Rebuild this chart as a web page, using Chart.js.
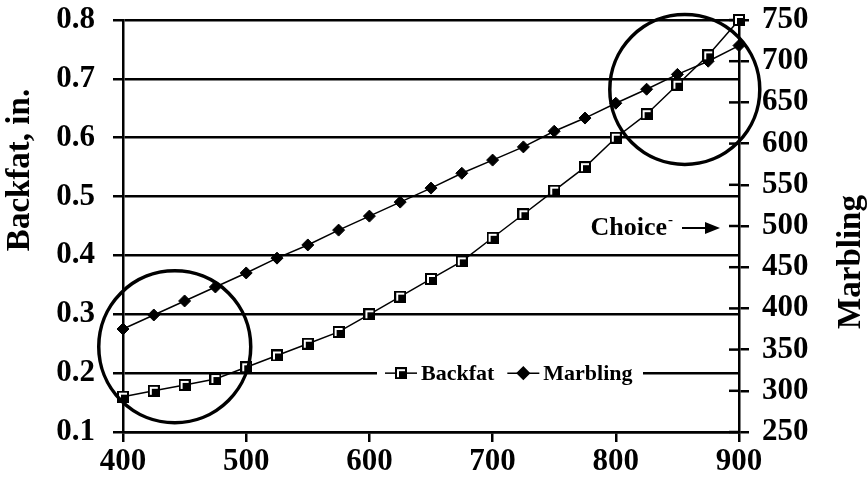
<!DOCTYPE html>
<html>
<head>
<meta charset="utf-8">
<script src="https://cdn.jsdelivr.net/npm/chart.js@4.4.1/dist/chart.umd.min.js"></script>
<style>
  html, body { margin: 0; padding: 0; background: #fff; }
  #wrap { width: 867px; height: 494px; }
</style>
</head>
<body>
<div id="wrap"><canvas id="beefChart"></canvas></div>
<script>
// Live weight (x) and the two responses
const weights = [400, 425, 450, 475, 500, 525, 550, 575, 600, 625, 650, 675, 700, 725, 750, 775, 800, 825, 850, 875, 900];
const backfat = [0.16, 0.17, 0.18, 0.19, 0.21, 0.23, 0.25, 0.27, 0.30, 0.33, 0.36, 0.39, 0.43, 0.47, 0.51, 0.55, 0.60, 0.64, 0.69, 0.74, 0.80];
const marbling = [375, 392, 409, 426, 443, 461, 477, 495, 512, 529, 546, 564, 580, 596, 615, 631, 649, 666, 684, 700, 719];

const xTicks = [400, 500, 600, 700, 800, 900];
const backfatTicks = [0.1, 0.2, 0.3, 0.4, 0.5, 0.6, 0.7, 0.8];
const marblingTicks = [250, 300, 350, 400, 450, 500, 550, 600, 650, 700, 750];

const SERIF = '"Liberation Serif", "Times New Roman", serif';
Chart.defaults.font.family = SERIF;
Chart.defaults.font.weight = 'bold';
Chart.defaults.color = '#000';

// square marker: black box with a white L inside
function squareMarker(size) {
  const c = document.createElement('canvas');
  c.width = size; c.height = size;
  const g = c.getContext('2d');
  g.fillStyle = '#000'; g.fillRect(0, 0, size, size);
  g.fillStyle = '#fff'; g.fillRect(2, 2, size - 4, size - 4);
  g.fillStyle = '#000'; g.fillRect(4, 4, size - 6, size - 6);
  return c;
}
const sqImg = squareMarker(12);

const toPoints = vals => weights.map((w, i) => ({ x: w, y: vals[i] }));

// no extra label padding, so the plot area lands where the original one is
const noPad = s => { s.paddingTop = 0; s.paddingBottom = 0; s.paddingLeft = 0; s.paddingRight = 0; };

// short ticks on the inner side of the right axis
const innerTicks = {
  id: 'innerTicks',
  beforeDatasetsDraw(chart) {
    const s = chart.scales.yR, ctx = chart.ctx;
    ctx.save();
    ctx.strokeStyle = '#000';
    ctx.lineWidth = 2.5;
    s.ticks.forEach(t => {
      const y = s.getPixelForValue(t.value);
      ctx.beginPath(); ctx.moveTo(s.left - 10, y); ctx.lineTo(s.left, y); ctx.stroke();
    });
    ctx.restore();
  }
};

// legend sitting on the 0.2 gridline, with a white box
const inlineLegend = {
  id: 'inlineLegend',
  afterDatasetsDraw(chart) {
    const ctx = chart.ctx, area = chart.chartArea;
    const y = chart.scales.y.getPixelForValue(0.2);
    const left = area.left + 254, width = 266;
    ctx.save();
    ctx.fillStyle = '#fff';
    ctx.fillRect(left, y - 12, width, 24);
    ctx.font = 'bold 22px ' + SERIF;
    ctx.textBaseline = 'middle';
    let x = left + 8;
    chart.data.datasets.forEach(ds => {
      ctx.strokeStyle = '#000'; ctx.lineWidth = 1.5;
      ctx.beginPath(); ctx.moveTo(x, y); ctx.lineTo(x + 32, y); ctx.stroke();
      Chart.helpers.drawPoint(ctx, {
        pointStyle: ds.pointStyle, radius: ds.pointRadius, borderWidth: 1, rotation: 0
      }, x + 16, y);
      ctx.fillStyle = '#000';
      ctx.fillText(ds.label, x + 36, y + 1);
      x += 36 + ctx.measureText(ds.label).width + 13;
    });
    ctx.restore();
  }
};

// circles, "Choice-" arrow and the two rotated axis titles
const annotations = {
  id: 'annotations',
  afterDraw(chart) {
    const ctx = chart.ctx, area = chart.chartArea;
    const sx = chart.scales.x, sy = chart.scales.y, sr = chart.scales.yR;
    ctx.save();
    ctx.strokeStyle = '#000';
    ctx.lineWidth = 3.5;
    [[442, 0.245, 76], [856, 0.682, 75]].forEach(([cx, cy, r]) => {
      ctx.beginPath();
      ctx.arc(sx.getPixelForValue(cx), sy.getPixelForValue(cy), r, 0, Math.PI * 2);
      ctx.stroke();
    });

    const ay = sr.getPixelForValue(500) + 2;
    ctx.fillStyle = '#000';
    ctx.font = 'bold 26px ' + SERIF;
    ctx.textAlign = 'right';
    ctx.textBaseline = 'middle';
    ctx.fillText('Choice', area.right - 72, ay);
    ctx.font = 'bold 15px ' + SERIF;
    ctx.textAlign = 'left';
    ctx.fillText('-', area.right - 71, ay - 8);
    ctx.lineWidth = 2;
    ctx.beginPath(); ctx.moveTo(area.right - 57, ay); ctx.lineTo(area.right - 32, ay); ctx.stroke();
    ctx.beginPath();
    ctx.moveTo(area.right - 34, ay - 6); ctx.lineTo(area.right - 19, ay); ctx.lineTo(area.right - 34, ay + 6);
    ctx.closePath(); ctx.fill();

    ctx.font = 'bold 33px ' + SERIF;
    ctx.textAlign = 'center';
    ctx.save();
    ctx.translate(area.left - 103, area.top + 150);
    ctx.rotate(-Math.PI / 2);
    ctx.fillText('Backfat, in.', 0, 0);
    ctx.restore();
    ctx.save();
    ctx.translate(area.right + 112, area.top + 242);
    ctx.rotate(-Math.PI / 2);
    ctx.fillText('Marbling', 0, 0);
    ctx.restore();
    ctx.restore();
  }
};

const tickFont = { size: 31, weight: 'bold', family: SERIF };

new Chart(document.getElementById('beefChart'), {
  type: 'line',
  data: {
    datasets: [{
      label: 'Backfat',
      data: toPoints(backfat),
      yAxisID: 'y',
      borderColor: '#000',
      borderWidth: 1.5,
      pointStyle: sqImg,
      pointRadius: 6,
      tension: 0,
      clip: false
    }, {
      label: 'Marbling',
      data: toPoints(marbling),
      yAxisID: 'yR',
      borderColor: '#000',
      backgroundColor: '#000',
      borderWidth: 1.5,
      pointStyle: 'rectRot',
      pointRadius: 6,
      pointBackgroundColor: '#000',
      pointBorderColor: '#000',
      pointBorderWidth: 1,
      tension: 0,
      clip: false
    }]
  },
  options: {
    responsive: true,
    maintainAspectRatio: false,
    animation: false,
    layout: { padding: { top: 20 } },
    plugins: { legend: { display: false }, tooltip: { enabled: false } },
    scales: {
      x: {
        type: 'linear',
        min: 400, max: 900,
        afterBuildTicks: s => { s.ticks = xTicks.map(v => ({ value: v })); },
        afterFit: s => { s.height = 62; noPad(s); },
        grid: { drawOnChartArea: false, color: '#000', lineWidth: 2.5, tickLength: 10 },
        border: { color: '#000', width: 2.5 },
        ticks: { font: tickFont, padding: 1, maxRotation: 0 }
      },
      y: {
        position: 'left',
        min: 0.1, max: 0.8,
        afterBuildTicks: s => { s.ticks = backfatTicks.map(v => ({ value: v })); },
        afterFit: s => { s.width = 123; noPad(s); },
        grid: { color: '#000', lineWidth: 2.5, tickLength: 10 },
        border: { color: '#000', width: 2.5 },
        ticks: { font: tickFont, padding: 18, callback: v => v.toFixed(1) }
      },
      yR: {
        position: 'right',
        min: 250, max: 750,
        afterBuildTicks: s => { s.ticks = marblingTicks.map(v => ({ value: v })); },
        afterFit: s => { s.width = 128; noPad(s); },
        grid: { drawOnChartArea: false, color: '#000', lineWidth: 2.5, tickLength: 10 },
        border: { color: '#000', width: 2.5 },
        ticks: { font: tickFont, padding: 13 }
      }
    }
  },
  plugins: [innerTicks, inlineLegend, annotations]
});
</script>
</body>
</html>
